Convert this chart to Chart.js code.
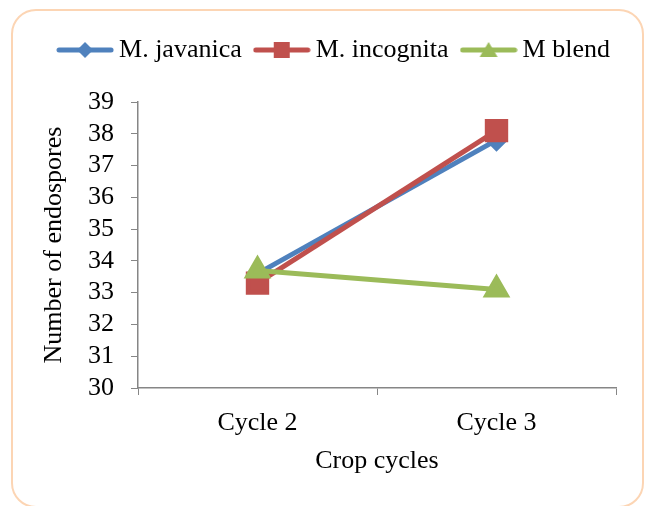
<!DOCTYPE html>
<html>
<head>
<meta charset="utf-8">
<script src="https://cdn.jsdelivr.net/npm/chart.js@4"></script>
<style>
  html, body { margin: 0; padding: 0; background: #fff; overflow: hidden; }
  #wrap { position: relative; width: 646px; height: 506px; overflow: hidden; }
  #frame {
    position: absolute; left: 11px; top: 9px; width: 633px; height: 499px;
    border: 2px solid #fcd5b4; border-radius: 25px; box-sizing: border-box;
  }
  canvas { position: absolute; left: 0; top: 0; }
</style>
</head>
<body>
<div id="wrap">
  <div id="frame"></div>
  <canvas id="chart" width="646" height="506"></canvas>
</div>
<script>
const categories = ['Cycle 2', 'Cycle 3'];
const javanica = [33.6, 37.8];
const incognita = [33.3, 38.1];
const blend = [33.7, 33.1];
const yTicks = [30, 31, 32, 33, 34, 35, 36, 37, 38, 39];

const FONT = "'Liberation Serif', 'DejaVu Serif', serif";
const FS = 26;

// line + marker swatch for the legend
function swatch(color, style) {
    const c = document.createElement('canvas');
    c.width = 58; c.height = 20;
    const g = c.getContext('2d');
    g.strokeStyle = color;
    g.lineWidth = 5;
    g.lineCap = 'round';
    g.beginPath(); g.moveTo(3, 10); g.lineTo(55, 10); g.stroke();
    g.fillStyle = color;
    g.beginPath();
    if (style === 'diamond') {
        g.moveTo(29, 2); g.lineTo(37, 10); g.lineTo(29, 18); g.lineTo(21, 10);
    } else if (style === 'square') {
        g.rect(21, 2, 16, 16);
    } else {
        g.moveTo(29, 2); g.lineTo(38, 17); g.lineTo(20, 17);
    }
    g.closePath(); g.fill();
    return c;
}

// keep the legend on one row (wider than the padded box) and force its height
const legendFit = {
    id: 'legendFit',
    beforeInit(chart) {
        const lg = chart.legend;
        const fit = lg.fit;
        lg.fit = function () {
            this.maxWidth = 646;
            fit.call(this);
            this.height = 84;
        };
        const draw = lg.draw;
        lg.draw = function () {
            const l = this.left, r = this.right;
            this.left = 28; this.right = 646;
            draw.call(this);
            this.left = l; this.right = r;
        };
    }
};

const ctx = document.getElementById('chart').getContext('2d');
new Chart(ctx, {
    type: 'line',
    data: {
        labels: categories,
        datasets: [
            {
                label: 'M. javanica', data: javanica, order: 3,
                borderColor: '#4f81bd', backgroundColor: '#4f81bd',
                borderWidth: 5, pointStyle: 'rectRot', pointRadius: 8,
                legendImg: swatch('#4f81bd', 'diamond')
            },
            {
                label: 'M. incognita', data: incognita, order: 2,
                borderColor: '#c0504d', backgroundColor: '#c0504d',
                borderWidth: 5, pointStyle: 'rect', pointRadius: 13,
                legendImg: swatch('#c0504d', 'square')
            },
            {
                label: 'M blend', data: blend, order: 1,
                borderColor: '#9bbb59', backgroundColor: '#9bbb59',
                borderWidth: 5, pointStyle: 'triangle', pointRadius: 11,
                legendImg: swatch('#9bbb59', 'triangle')
            }
        ]
    },
    options: {
        responsive: false,
        animation: false,
        layout: { padding: { left: 35, right: 30, top: 18, bottom: 25 } },
        plugins: {
            legend: {
                position: 'top',
                labels: {
                    usePointStyle: true,
                    pointStyleWidth: 42,
                    boxHeight: 20,
                    padding: 19,
                    color: '#000',
                    font: { family: FONT, size: FS },
                    sort: (a, b) => a.datasetIndex - b.datasetIndex,
                    generateLabels: function(chart) {
                        return chart.data.datasets.map((ds, i) => ({
                            text: ds.label,
                            pointStyle: ds.legendImg,
                            fillStyle: ds.borderColor,
                            strokeStyle: ds.borderColor,
                            lineWidth: 0,
                            datasetIndex: i,
                            fontColor: '#000'
                        }));
                    }
                }
            },
            tooltip: { enabled: false }
        },
        scales: {
            x: {
                offset: true,
                afterFit: function(scale) { scale.height = 93; },
                grid: { offset: true, drawOnChartArea: false, color: '#868686', tickLength: 7, tickColor: '#868686' },
                border: { color: '#868686', width: 1.5 },
                ticks: { color: '#000', font: { family: FONT, size: FS }, padding: 13 },
                title: { display: true, text: 'Crop cycles', color: '#000', font: { family: FONT, size: FS }, padding: { top: 4 } }
            },
            y: {
                min: 30, max: 39,
                afterBuildTicks: function(scale) {
                    scale.ticks = yTicks.map(v => ({ value: v }));
                },
                afterFit: function(scale) { scale.width = 103; },
                grid: { drawOnChartArea: false, color: '#868686', tickLength: 7, tickColor: '#868686' },
                border: { color: '#868686', width: 1.5 },
                ticks: { color: '#000', font: { family: FONT, size: FS }, padding: 17, autoSkip: false },
                title: { display: true, text: 'Number of endospores', color: '#000', font: { family: FONT, size: FS }, padding: { bottom: 0 } }
            }
        }
    },
    plugins: [legendFit]
});
</script>
</body>
</html>
